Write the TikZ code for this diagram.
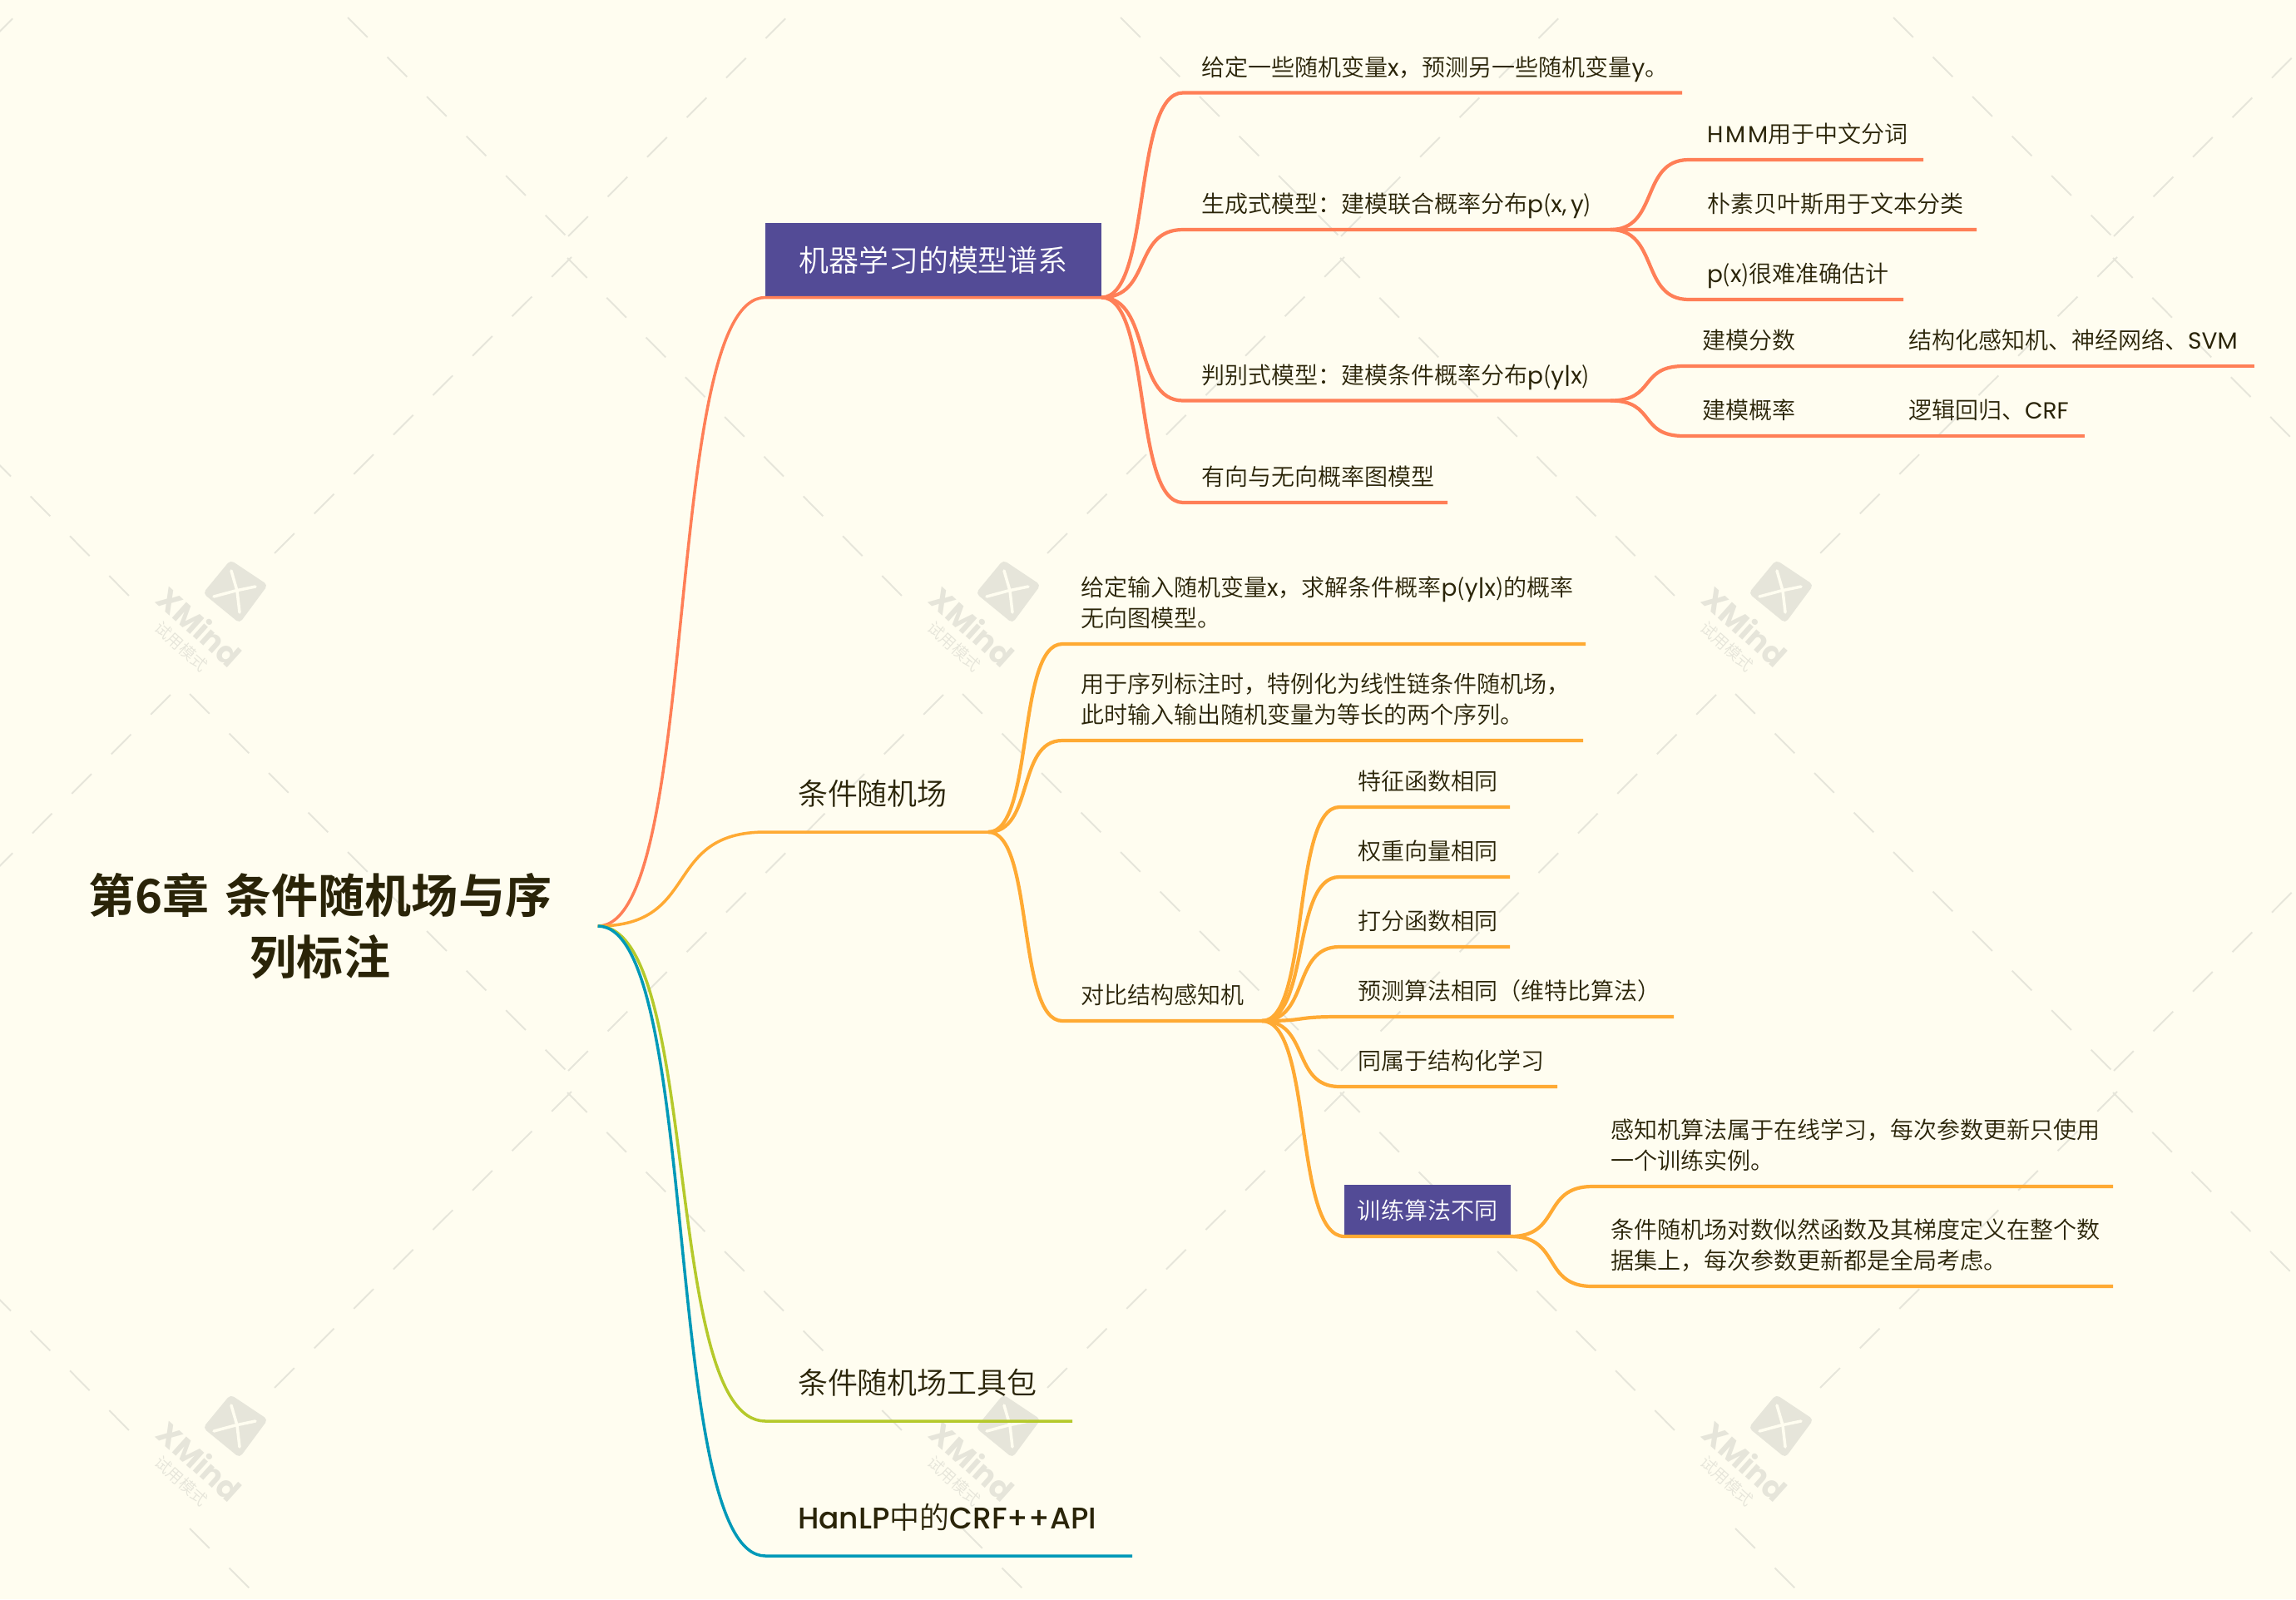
\documentclass[tikz,border=0pt]{standalone}
\usepackage{fontspec}
\usetikzlibrary{calc}
\setmainfont{Noto Sans CJK SC DemiLight}[BoldFont={Noto Sans CJK SC Bold}]
\newfontfamily\latfont{Poppins}
\newfontfamily\latwide[LetterSpace=10]{Poppins}
\newfontfamily\latmed{Poppins Medium}
\newcommand{\latn}[1]{{\latfont #1}}
\newcommand{\fsroot}{\fontsize{15.95}{21.3}\selectfont}
\newcommand{\fsmain}{\fontsize{10.24}{14}\selectfont}
\newcommand{\fssub}{\fontsize{7.97}{10.5}\selectfont}
\definecolor{bgcream}{HTML}{FFFDF0}
\definecolor{inkbrown}{HTML}{2A2408}
\definecolor{keypurple}{HTML}{534B96}
\definecolor{wmgrey}{HTML}{E6E5DA}
\definecolor{brorange}{HTML}{FF7F57}
\definecolor{bryellow}{HTML}{FFAA33}
\definecolor{brgreen}{HTML}{B5C92B}
\definecolor{brblue}{HTML}{0099B8}
\tikzset{
	topic/.style={anchor=south west, inner xsep=.22cm, inner ysep=.12cm, outer sep=0pt,
		text width=#1cm-.44cm, align=left, text=inkbrown, font=\fssub,
		execute at end node={\rule[-.3em]{0pt}{.3em}}},
	maintopic/.style={topic=#1, inner xsep=.39cm, inner ysep=.22cm,
		text width=#1cm-.78cm, font=\fsmain},
	keytopic/.style 2 args={anchor=south west, fill=keypurple, text=white, outer sep=0pt,
		inner sep=0pt, minimum width=#1cm, minimum height=#2cm},
	roottopic/.style={inner sep=0pt, text width=6.66cm, align=center, text=inkbrown,
		font=\fsroot\bfseries},
	redbr/.style={draw=brorange, line width=1.2pt, line join=round},
	yelbr/.style={draw=bryellow, line width=1.2pt, line join=round},
	grnbr/.style={draw=brgreen, line width=1pt, line join=round},
	blubr/.style={draw=brblue, line width=1pt, line join=round},
	wmdash/.style={draw=wmgrey, line width=.55pt, dash pattern=on .336cm off .336cm},
}
\newcommand{\branch}[3]{\draw[#1] (#2) .. controls ($(#2)!.62!(#3.south west |- #2)$) and ($(#3.south west)!.62!(#2 |- #3.south west)$) .. (#3.south west) -- (#3.south east);}
\begin{document}
\begin{tikzpicture}[x=1cm, y=-1cm]
	\useasboundingbox (0,0) rectangle (27.6,19.22);
	\fill[bgcream] (0,0) rectangle (27.6,19.22);

	% watermark
	\begin{scope}
		\clip (0,0) rectangle (27.6,19.22);
		\foreach \i in {-1,...,2} \foreach \j in {-1,...,1} {
			\begin{scope}[shift={(\i*9.29,\j*10.03)}]
				\draw[wmdash] (2.28,8.34) -- (6.82,12.88);
				\draw[wmdash] (6.82,3.10) -- (10.84,7.16);
				\draw[wmdash] (11.34,-1.68) -- (6.82,2.85);
				\draw[wmdash] (6.87,3.09) -- (3.28,6.67);
			\end{scope}
		}
	\end{scope}
	\foreach \i in {0,1,2} \foreach \j in {0,1} {
		\begin{scope}[shift={(\i*9.29,\j*10.03)}]
			\fill[wmgrey, rounded corners=.05cm] (2.77,6.73) -- (3.22,7.03) -- (2.88,7.49) -- (2.44,7.13) -- cycle;
			\draw[bgcream, line width=1pt, line cap=round] (2.78,6.86) -- (2.85,7.10) -- (2.88,7.36);
			\draw[bgcream, line width=1pt, line cap=round] (3.07,7.05) -- (2.83,7.10) -- (2.57,7.17);
			\node[rotate=-42, text=wmgrey, font=\latfont\fontsize{10.4}{11}\selectfont\bfseries] (wmname\i\j) at (2.40,7.53) {XMind};
			\node[rotate=-42, text=wmgrey, font=\fontsize{5.5}{6}\selectfont] (wmmode\i\j) at (2.18,7.77) {试用模式};
		\end{scope}
	}

	\node[roottopic] (root) at (3.85,11.13) {第6章 条件随机场与序\\列标注};

	\node[keytopic={4.04}{.895}, font=\fsmain] (model) at (9.2,3.575) {机器学习的模型谱系};
	\node[topic=6.0]  (mgiven) at (14.22,1.115) {给定一些随机变量\latn{x}，预测另一些随机变量\latn{y}。};
	\node[topic=5.14] (mgen)   at (14.22,2.76)  {生成式模型：建模联合概率分布\latn{p}(\latn{x,\,y})};
	\node[topic=5.14] (mdis)   at (14.22,4.815) {判别式模型：建模条件概率分布\latn{p}(\latn{y|x})};
	\node[topic=3.18] (mgraph) at (14.22,6.04)  {有向与无向概率图模型};
	\node[topic=2.82] (ghmm)   at (20.30,1.92)  {{\latwide HMM}用于中文分词};
	\node[topic=3.46] (gnb)    at (20.30,2.76)  {朴素贝叶斯用于文本分类};
	\node[topic=2.58] (gpx)    at (20.30,3.60)  {\latn{p}(\latn{x})很难准确估计};
	\node[topic=2.48] (dscore) at (20.24,4.40)  {建模分数};
	\node[topic=4.38] (dsval)  at (22.72,4.40)  {结构化感知机、神经网络、\latn{SVM}};
	\node[topic=2.48] (dprob)  at (20.24,5.24)  {建模概率};
	\node[topic=2.34] (dpval)  at (22.72,5.24)  {逻辑回归、\latn{CRF}};

	\node[maintopic=2.68] (crf) at (9.2,10.0) {条件随机场};
	\node[topic=6.29] (cgiven) at (12.77,7.74)  {给定输入随机变量\latn{x}，求解条件概率\latn{p}(\latn{y|x})的概率\\无向图模型。};
	\node[topic=6.26] (cseq)   at (12.77,8.90)  {用于序列标注时，特例化为线性链条件随机场，\\此时输入输出随机变量为等长的两个序列。};
	\node[topic=2.40] (cperc)  at (12.77,12.27) {对比结构感知机};
	\node[topic=2.05] (pfeat)  at (16.10,9.70)  {特征函数相同};
	\node[topic=2.05] (pweight) at (16.10,10.54) {权重向量相同};
	\node[topic=2.05] (pscore) at (16.10,11.38) {打分函数相同};
	\node[topic=4.02] (ppred)  at (16.10,12.22) {预测算法相同（维特比算法）};
	\node[topic=2.62] (psame)  at (16.10,13.06) {同属于结构化学习};
	\node[keytopic={2.00}{.62}, font=\fssub] (ptrain) at (16.16,14.86) {训练算法不同};
	\node[topic=6.26] (tperc)  at (19.14,14.26) {感知机算法属于在线学习，每次参数更新只使用\\一个训练实例。};
	\node[topic=6.26] (tcond)  at (19.14,15.46) {条件随机场对数似然函数及其梯度定义在整个数\\据集上，每次参数更新都是全局考虑。};

	\node[maintopic=3.69] (tool)  at (9.2,17.08) {条件随机场工具包};
	\node[maintopic=4.41] (hanlp) at (9.2,18.70) {{\latmed HanLP}中的{\latmed CRF++API}};

	\branch{redbr,line width=1pt}{root.east}{model}
	\branch{redbr}{model.south east}{mgiven}
	\branch{redbr}{model.south east}{mgen}
	\branch{redbr}{model.south east}{mdis}
	\branch{redbr}{model.south east}{mgraph}
	\branch{redbr}{mgen.south east}{ghmm}
	\branch{redbr}{mgen.south east}{gnb}
	\branch{redbr}{mgen.south east}{gpx}
	\branch{redbr}{mdis.south east}{dscore}
	\branch{redbr}{mdis.south east}{dprob}
	\draw[redbr] (dscore.south east) -- (dsval.south east);
	\draw[redbr] (dprob.south east) -- (dpval.south east);

	\branch{yelbr,line width=1pt}{root.east}{crf}
	\branch{yelbr}{crf.south east}{cgiven}
	\branch{yelbr}{crf.south east}{cseq}
	\branch{yelbr}{crf.south east}{cperc}
	\branch{yelbr}{cperc.south east}{pfeat}
	\branch{yelbr}{cperc.south east}{pweight}
	\branch{yelbr}{cperc.south east}{pscore}
	\branch{yelbr}{cperc.south east}{ppred}
	\branch{yelbr}{cperc.south east}{psame}
	\branch{yelbr}{cperc.south east}{ptrain}
	\branch{yelbr}{ptrain.south east}{tperc}
	\branch{yelbr}{ptrain.south east}{tcond}

	\branch{grnbr}{root.east}{tool}
	\branch{blubr}{root.east}{hanlp}
\end{tikzpicture}
\end{document}
